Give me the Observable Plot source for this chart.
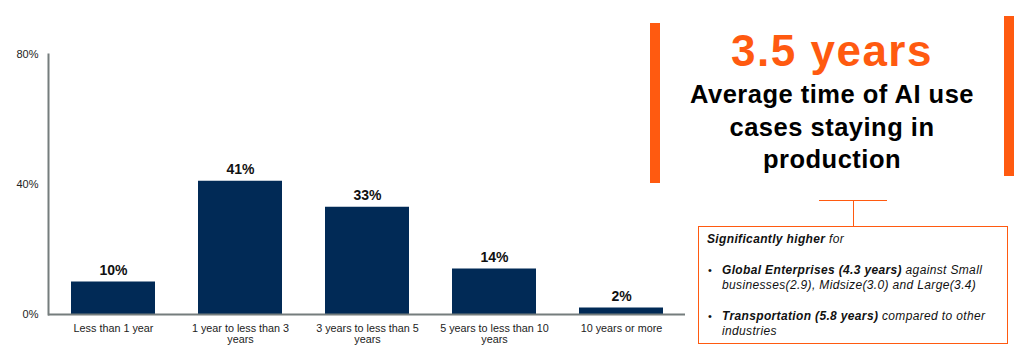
<!DOCTYPE html>
<html>
<head>
<meta charset="utf-8">
<script src="https://cdn.jsdelivr.net/npm/d3@7"></script>
<script src="https://cdn.jsdelivr.net/npm/@observablehq/plot@0.6"></script>
<style>
  html, body { margin: 0; padding: 0; background: #fff; }
  body { font-family: "Liberation Sans", Arial, sans-serif; }
  #wrap { position: relative; width: 1024px; height: 360px; overflow: hidden; }
  #chart { position: absolute; left: 0; top: 0; }
  .obar { position: absolute; width: 10px; background: #FF5A10; }
  #big { position: absolute; left: 660px; width: 344px; top: 25px; text-align: center;
         color: #FF5A10; font-weight: bold; font-size: 44px; letter-spacing: 1.5px; line-height: 52px; }
  #avg { position: absolute; left: 655px; width: 354px; top: 78px; text-align: center;
         color: #000; font-weight: bold; font-size: 25.5px; letter-spacing: 0.5px; line-height: 32.5px; }
  .cline { position: absolute; background: #FF5A10; }
  #box { position: absolute; left: 698px; top: 226px; width: 310px; height: 118px;
         border: 1px solid #FF5A10; box-sizing: border-box; font-size: 12px; letter-spacing: 0.35px;
         line-height: 14.5px; color: #111; }
  .ln { position: absolute; white-space: nowrap; }
  .ln b { font-style: italic; }
  .ln i { font-style: italic; }
  .bul { position: absolute; left: 9px; font-size: 11px; }
</style>
</head>
<body>
<div id="wrap">
  <div id="chart"></div>
  <div class="obar" style="left:650px; top:23px; height:160px;"></div>
  <div class="obar" style="left:1004px; top:16px; height:160px;"></div>
  <div id="big">3.5 years</div>
  <div id="avg">Average time of AI use<br>cases staying in<br>production</div>
  <div class="cline" style="left:819px; top:200px; width:68px; height:1px;"></div>
  <div class="cline" style="left:853px; top:200px; width:1px; height:26px;"></div>
  <div id="box">
    <div class="ln" style="left:8px; top:5px;"><b>Significantly higher</b><i> for</i></div>
    <span class="bul" style="top:36px;">•</span>
    <div class="ln" style="left:23px; top:36px;"><b>Global Enterprises (4.3 years)</b><i> against Small</i></div>
    <div class="ln" style="left:23px; top:50.5px;"><i>businesses(2.9), Midsize(3.0) and Large(3.4)</i></div>
    <span class="bul" style="top:82px;">•</span>
    <div class="ln" style="left:23px; top:82px;"><b>Transportation (5.8 years)</b><i> compared to other</i></div>
    <div class="ln" style="left:23px; top:96.5px;"><i>industries</i></div>
  </div>
</div>
<script>
const categories = ["Less than 1 year", "1 year to less than 3 years", "3 years to less than 5 years", "5 years to less than 10 years", "10 years or more"];
const tickLabels = ["Less than 1 year", "1 year to less than 3\nyears", "3 years to less than 5\nyears", "5 years to less than 10\nyears", "10 years or more"];
const shares = [10, 41, 33, 14, 2];
const yTicks = [0, 40, 80];

const data = categories.map((c, i) => ({category: c, share: shares[i]}));
const labelOf = new Map(categories.map((c, i) => [c, tickLabels[i]]));

const navy = "#012a56";
const axisGray = "#757d7d";

const chart = Plot.plot({
  width: 1024,
  height: 360,
  marginLeft: 48,
  marginRight: 339,
  marginTop: 54,
  marginBottom: 46,
  style: {fontFamily: "'Liberation Sans', Arial, sans-serif", background: "transparent"},
  x: {domain: categories, paddingInner: 0.34, paddingOuter: 0.17, label: null},
  y: {domain: [0, 80], label: null},
  marks: [
    Plot.barY(data, {x: "category", y: "share", fill: navy}),
    Plot.text(data, {x: "category", y: "share", text: d => `${d.share}%`, lineAnchor: "bottom", dy: -7,
      fontWeight: "bold", fontSize: 14, fill: "#111"}),
    Plot.axisY({ticks: yTicks, tickFormat: d => `${d}%`, tickSize: 0, tickPadding: 10, fontSize: 11, fill: "#222", label: null}),
    Plot.axisX({tickSize: 0, tickPadding: 9, fontSize: 10.8, lineHeight: 1.05, fill: "#222", label: null,
      tickFormat: d => labelOf.get(d)}),
    Plot.frame({anchor: "left", stroke: axisGray, strokeWidth: 2}),
    Plot.ruleY([0], {stroke: axisGray, strokeWidth: 2})
  ]
});
document.getElementById("chart").appendChild(chart);
</script>
</body>
</html>
